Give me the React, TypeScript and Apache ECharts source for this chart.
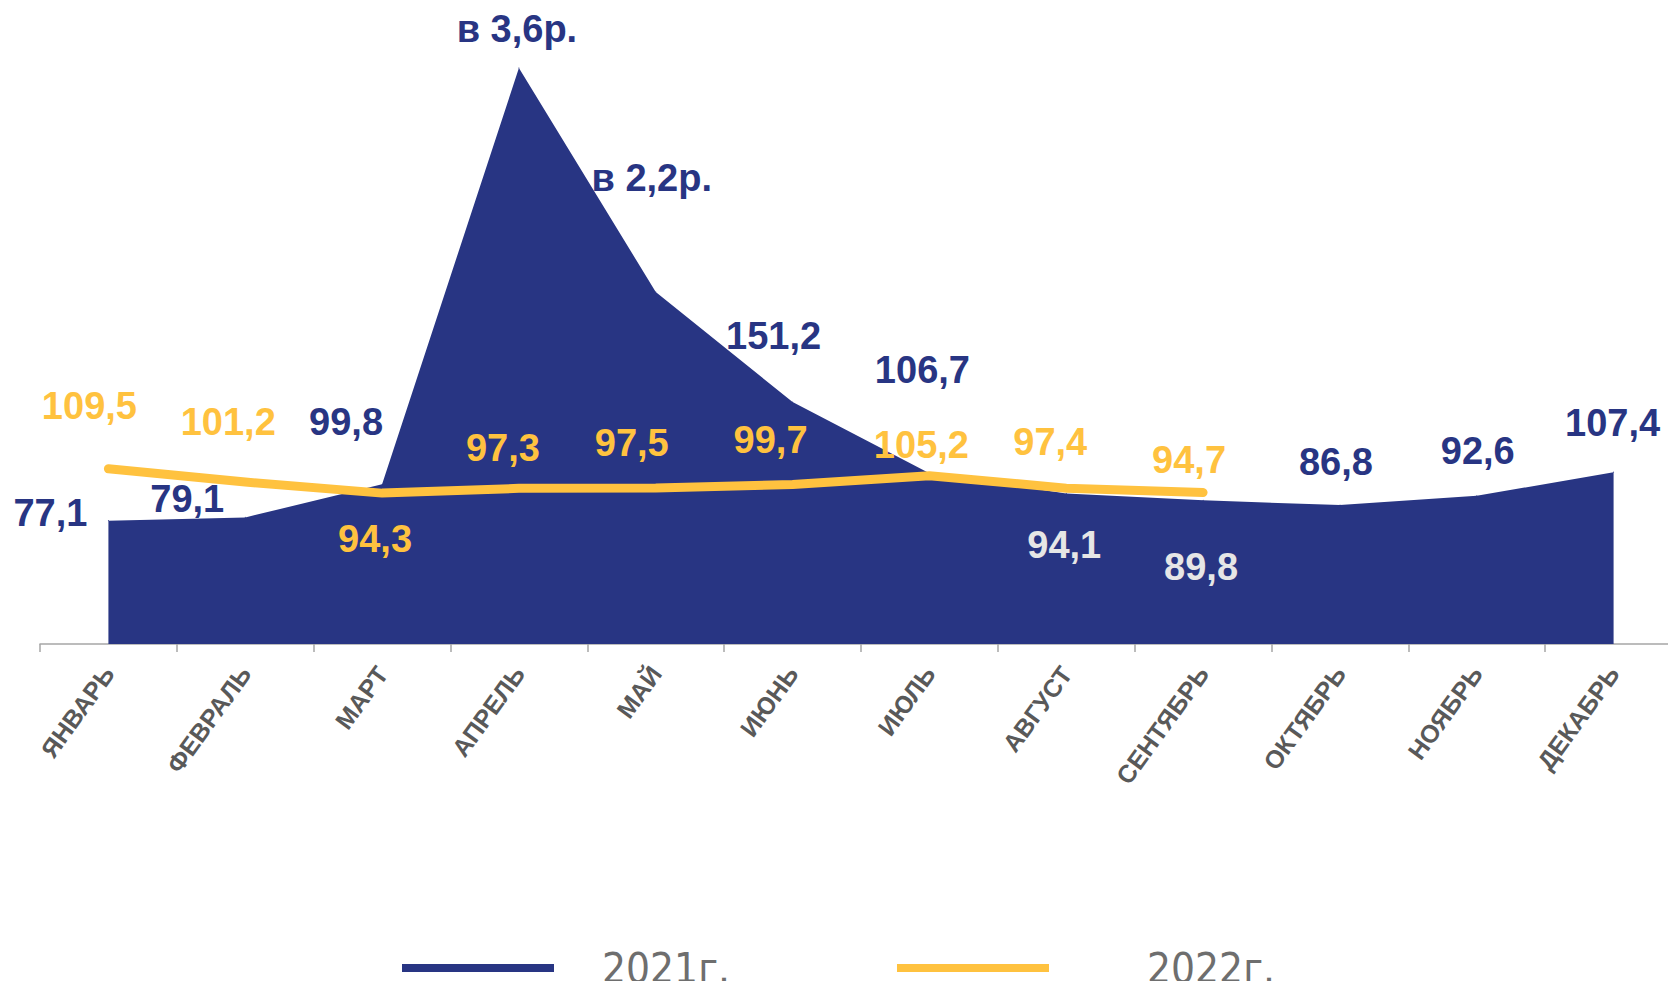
import React, { useEffect, useRef } from 'react';
import * as echarts from 'echarts';

const MONTHS = ['ЯНВАРЬ', 'ФЕВРАЛЬ', 'МАРТ', 'АПРЕЛЬ', 'МАЙ', 'ИЮНЬ', 'ИЮЛЬ', 'АВГУСТ', 'СЕНТЯБРЬ', 'ОКТЯБРЬ', 'НОЯБРЬ', 'ДЕКАБРЬ'];
const SERIES_NAMES = ['2021г.', '2022г.'];
const VALUES_2021 = [77.1, 79.1, 99.8, 360, 220, 151.2, 106.7, 94.1, 89.8, 86.8, 92.6, 107.4];
const LABELS_2021 = ['77,1', '79,1', '99,8', 'в 3,6р.', 'в 2,2р.', '151,2', '106,7', '94,1', '89,8', '86,8', '92,6', '107,4'];
const VALUES_2022 = [109.5, 101.2, 94.3, 97.3, 97.5, 99.7, 105.2, 97.4, 94.7];

// label placement (offset from point, px) — layout only
const OFFSETS_2021 = [[-58, -8], [-58, -18], [-36, -62], [-2, -39], [-4, -114], [-19, -66], [-7, -103], [-2, 52], [-2, 67], [-4, -43], [1, -45], [-1, -49]];
const LIGHT_2021 = [7, 8];
const OFFSETS_2022 = [[-19, -63], [-17, -60], [-7, 46], [-16, -40], [-24, -45], [-22, -44], [-8, -31], [-16, -46], [-14, -32]];
const LEGEND_TEXT_PAD = [43, 93];

const BLUE = '#283583';
const YELLOW = '#FFC23F';
const LIGHT = '#E6E6E6';

const fmt = (v: number) => v.toFixed(1).replace('.', ',');

export default function App() {
  const ref = useRef<HTMLDivElement>(null);
  useEffect(() => {
    if (!ref.current) return;
    const chart = echarts.init(ref.current, null, { renderer: 'svg' });
    const labelFont = { fontFamily: "'Liberation Sans', Arial, sans-serif", fontWeight: 'bold' as const, fontSize: 38 };
    const legendFont = {
      fontSize: 42,
      lineHeight: 50,
      color: '#6e6e6e',
      fontFamily: "'Liberation Sans Narrow', 'DejaVu Sans Condensed', 'Liberation Sans', sans-serif",
    };
    chart.setOption({
      animation: false,
      grid: { left: 40, top: 4, width: 1642, height: 640, containLabel: false },
      xAxis: {
        type: 'category',
        data: MONTHS,
        boundaryGap: true,
        axisLine: { lineStyle: { color: '#a6a6a6', width: 1.5 } },
        axisTick: { show: true, length: 8, lineStyle: { color: '#a6a6a6', width: 1.5 } },
        axisLabel: {
          interval: 0,
          rotate: 54,
          margin: 25,
          fontSize: 25,
          fontWeight: 'bold',
          color: '#595959',
          fontFamily: "'Liberation Sans', Arial, sans-serif",
        },
        splitLine: { show: false },
      },
      yAxis: { type: 'value', min: 0, max: 400, show: false, splitLine: { show: false } },
      legend: {
        left: 402,
        top: 931,
        padding: 0,
        itemWidth: 152,
        itemHeight: 8,
        itemGap: 167,
        symbolKeepAspect: false,
        data: SERIES_NAMES.map((n, i) => ({
          name: n,
          icon: 'rect',
          textStyle: { ...legendFont, padding: [0, 0, 24, LEGEND_TEXT_PAD[i]] },
        })),
        textStyle: { ...legendFont, padding: [0, 0, 24, 43] },
      },
      series: [
        {
          name: SERIES_NAMES[0],
          type: 'line',
          z: 1,
          symbol: 'circle',
          symbolSize: 1,
          showSymbol: true,
          itemStyle: { color: BLUE },
          lineStyle: { color: BLUE, width: 0 },
          areaStyle: { color: BLUE, opacity: 1 },
          data: VALUES_2021.map((v, i) => ({
            value: v,
            label: {
              show: true,
              position: 'inside',
              offset: OFFSETS_2021[i],
              formatter: LABELS_2021[i],
              color: LIGHT_2021.includes(i) ? LIGHT : BLUE,
              align: 'center',
              verticalAlign: 'middle',
              ...labelFont,
            },
          })),
        },
        {
          name: SERIES_NAMES[1],
          type: 'line',
          z: 3,
          symbol: 'circle',
          symbolSize: 1,
          showSymbol: true,
          itemStyle: { color: YELLOW },
          lineStyle: { color: YELLOW, width: 9, cap: 'round', join: 'round' },
          data: VALUES_2022.map((v, i) => ({
            value: v,
            label: {
              show: true,
              position: 'inside',
              offset: OFFSETS_2022[i],
              formatter: fmt(v),
              color: YELLOW,
              align: 'center',
              verticalAlign: 'middle',
              ...labelFont,
            },
          })),
        },
      ],
    });
    return () => chart.dispose();
  }, []);
  return (
    <div style={{ position: 'absolute', left: 0, top: 0, width: 1668, height: 981, overflow: 'hidden', background: '#fff' }}>
      <div ref={ref} style={{ width: 1700, height: 981 }} />
    </div>
  );
}
